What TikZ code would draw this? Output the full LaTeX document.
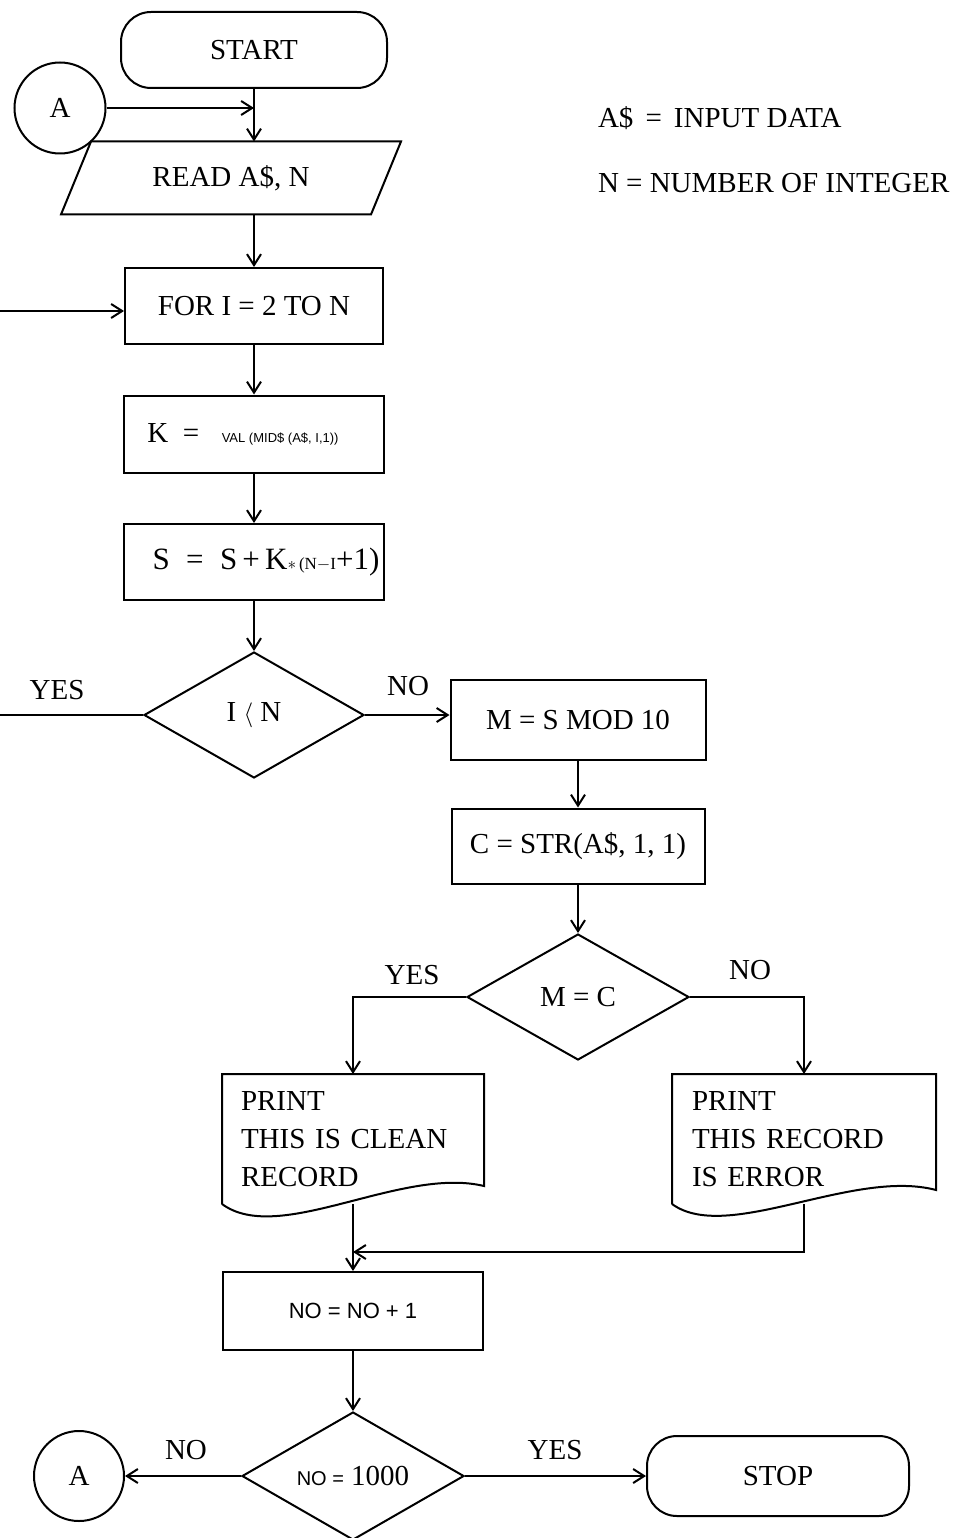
\documentclass[tikz,border=0pt]{standalone}
\usepackage{fontspec}
\setmainfont{Liberation Serif}
\setsansfont{Liberation Sans}
\usetikzlibrary{arrows.meta,positioning,shapes.geometric}
\tikzset{
  term/.style={draw,rounded corners=30pt,minimum width=266pt,minimum height=76pt,inner sep=2pt},
  proc/.style={draw,minimum width=258pt,minimum height=76pt,inner sep=2pt},
  dec/.style={draw,diamond,aspect=1.74,minimum width=220pt,minimum height=126pt,inner sep=0pt},
  conn/.style={draw,circle,minimum size=91pt,inner sep=0pt},
  io/.style={minimum width=308pt,minimum height=71pt,inner sep=2pt},
  doc/.style={minimum width=260pt,minimum height=128pt,text width=224pt,align=left,
              inner xsep=18pt,inner ysep=0pt},
  arr/.style={-{Straight Barb[length=11pt,width=14pt]}},
  lbl/.style={inner sep=0pt},
}

\begin{document}
\begin{tikzpicture}[x=1pt,y=-1pt,line width=2pt,font=\fontsize{29}{38}\selectfont]
  \useasboundingbox (0,0) rectangle (965,1538);
  % main column
  \node[term] (S0) at (254,50) {START};
  \node[conn] (A1) at (60,108) {A};
  \node[io] (R) at (231,178) {READ A\$, N};
  \draw ([xshift=15pt]R.north west) -- ([xshift=15pt]R.north east)
    -- ([xshift=-15pt]R.south east) -- ([xshift=-15pt]R.south west) -- cycle;
  \node[proc] (F) at (254,306) {FOR I = 2 TO N};
  \node[proc,minimum width=260pt,minimum height=77pt] (K) at (254,434)
    {K\enspace=\enspace\;{\sffamily\fontsize{13}{15}\selectfont VAL (MID\$ (A\$, I,1))}\kern22pt};
  \node[proc,minimum width=260pt] (S) at (254,562)
    {\kern24pt\fontsize{31}{38}\selectfont S \;=\; S\,+\,K{\fontsize{17}{20}\selectfont$\ast$\,(N$-$I}+1)};
  \node[dec] (D1) at (254,715) {I $\langle$ N};
  % second column
  \node[proc,minimum width=255pt,minimum height=80pt] (M) at (578,720) {M = S MOD 10};
  \node[proc,minimum width=253pt,minimum height=75pt] (C) at (578,846) {C = STR(A\$, 1, 1)};
  \node[dec,minimum width=222pt] (D2) at (578,997) {M = C};
  % documents
  \node[doc] (P1) at (353,1139) {PRINT\\THIS IS CLEAN\\RECORD};
  \node[doc,minimum width=262pt,text width=224pt,inner xsep=19pt] (P2) at (804,1139) {PRINT\\THIS RECORD\\IS ERROR};
  \draw (P1.south west) -- (P1.north west) -- (P1.north east) -- ([yshift=18pt]P1.south east)
    .. controls +(-83,-20) and +(57,42) .. (P1.south west);
  \draw (P2.south west) -- (P2.north west) -- (P2.north east) -- ([yshift=14pt]P2.south east)
    .. controls +(-83,-22) and +(55,40) .. (P2.south west);
  % end part
  \node[proc,minimum width=260pt,minimum height=78pt] (N1) at (353,1311)
    {\sffamily\fontsize{22}{26}\selectfont NO = NO + 1};
  \node[dec,minimum width=222pt,minimum height=128pt] (D3) at (353,1476)
    {{\sffamily\fontsize{20}{24}\selectfont NO =} 1000};
  \node[conn,minimum size=90pt] (A2) at (79,1476) {A};
  \node[term,minimum width=262pt,minimum height=80pt] (E) at (778,1476) {STOP};
  % legend and labels
  \node[lbl,anchor=west] (L1) at (597,118) {A\$ \,=\, INPUT DATA};
  \node[lbl,anchor=west] (L2) at (597,183) {N = NUMBER OF INTEGER};
  \node[lbl] (yes1) at (57,690) {YES};
  \node[lbl] (no1) at (408,686) {NO};
  \node[lbl] (yes2) at (412,975) {YES};
  \node[lbl] (no2) at (750,970) {NO};
  \node[lbl] (no3) at (186,1450) {NO};
  \node[lbl] (yes3) at (555,1450) {YES};
  % connectors
  \coordinate (J1) at (S0.south |- A1.east);
  \coordinate (lp1) at (0,715);
  \coordinate (lp2) at (0,311);
  \coordinate (J2) at (353,1252);
  \draw[arr] (S0.south) -- (S0.south |- R.north);
  \draw[arr] (A1.east) -- (J1);
  \draw[arr] (F.north |- R.south) -- (F.north);
  \draw[arr] (lp2) -- (lp2 -| F.west);
  \draw[arr] (F) -- (K);
  \draw[arr] (K) -- (S);
  \draw[arr] (S) -- (D1);
  \draw (D1.west) -- (lp1);
  \draw[arr] (D1.east) -- (D1.east -| M.west);
  \draw[arr] (M) -- (C);
  \draw[arr] (C) -- (D2);
  \draw[arr] (D2.west) -| (P1.north);
  \draw[arr] (D2.east) -| (P2.north);
  \draw[arr] (P2.south) |- (J2);
  \draw[arr] (P1) -- (N1);
  \draw[arr] (N1) -- (D3);
  \draw[arr] (D3) -- (A2);
  \draw[arr] (D3) -- (E);
\end{tikzpicture}
\end{document}
